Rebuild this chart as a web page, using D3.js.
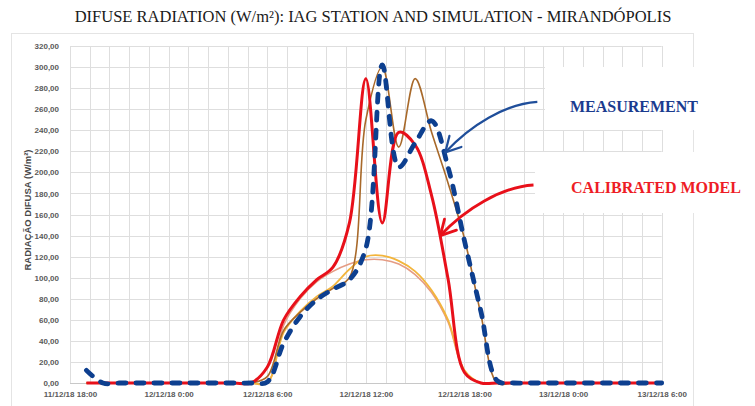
<!DOCTYPE html>
<html>
<head>
<meta charset="utf-8">
<script src="https://cdn.jsdelivr.net/npm/d3@7"></script>
<style>
  body { margin: 0; background: #fff; }
  svg { display: block; }
</style>
</head>
<body>
<div id="chart"></div>
<script>
// hourly series, 11/12/18 19:00 -> 13/12/18 06:00
var measurement = [12, 0, 0, 0, 0, 0, 0, 0, 0, 0, 0,
  1, 38, 63, 79, 89, 98, 128, 302, 205, 228, 249, 205, 135, 68, 2,
  0, 0, 0, 0, 0, 0, 0, 0, 0, 0];
var calibrated = [0, 0, 0, 0, 0, 0, 0, 0, 0, 0, 0,
  15, 60, 82, 98, 110, 152, 289, 152, 238, 226, 178, 99, 10, 0, 0,
  0, 0, 0, 0, 0, 0, 0, 0, 0, 0];
var model = [0, 0, 0, 0, 0, 0, 0, 0, 0, 0, 0,
  6, 50, 67, 80, 90, 100, 250, 300, 224, 289, 238, 190, 137, 65, 0,
  0, 0, 0, 0, 0, 0, 0, 0, 0, 0];
var clearSkyA = [0, 0, 0, 0, 0, 0, 0, 0, 0, 0, 0,
  0, 48, 68, 82, 92, 108, 120, 121, 116, 106, 88, 60, 12, 0, 0,
  0, 0, 0, 0, 0, 0, 0, 0, 0, 0];
var clearSkyB = [0, 0, 0, 0, 0, 0, 0, 0, 0, 0, 0,
  0, 55, 80, 96, 106, 113, 117, 117, 113, 103, 86, 58, 11, 0, 0,
  0, 0, 0, 0, 0, 0, 0, 0, 0, 0];

var yTicks = d3.range(0, 321, 20);
var titleText = "DIFUSE RADIATION (W/m²): IAG STATION AND SIMULATION - MIRANDÓPOLIS";
var yTitle = "RADIAÇÃO DIFUSA (W/m²)";

var parseT = d3.timeParse("%d/%m/%y %H:%M");
var tStart = parseT("11/12/18 18:00");
var tEnd = parseT("13/12/18 06:00");
var times = d3.timeHour.range(parseT("11/12/18 19:00"), d3.timeHour.offset(tEnd, 1));

// arrow annotations: [time, value] for start and tip
var arrows = [
  { from: ["12/12/18 22:26", 267], tip: ["12/12/18 16:50", 219], color: "#1f4e9a", w: 2.2 },
  { from: ["12/12/18 22:12", 188], tip: ["12/12/18 16:32", 140], color: "#e8101a", w: 2.8 }
];

var svgWidth = 755;
var svgHeight = 406;

var svg = d3.select("#chart")
  .append("svg")
  .attr("width", svgWidth)
  .attr("height", svgHeight);

var x = d3.scaleTime().domain([tStart, tEnd]).range([70, 661.7]);
var y = d3.scaleLinear().domain([0, 320]).range([383, 46]);

var locale = d3.formatLocale({ decimal: ",", thousands: ".", grouping: [3], currency: ["R$", ""] });
var fmtY = locale.format(".2f");
var fmtX = d3.timeFormat("%d/%m/%y %-H:%M");

// title
svg.append("text")
  .attr("x", 373)
  .attr("y", 22)
  .attr("text-anchor", "middle")
  .style("font-family", "'Liberation Serif', 'Times New Roman', serif")
  .style("font-size", "16.5px")
  .attr("fill", "#1a1a1a")
  .text(titleText);

// chart area border
svg.append("rect")
  .attr("x", 11.5).attr("y", 33.5)
  .attr("width", 682).attr("height", 420)
  .attr("fill", "none")
  .attr("stroke", "#e4e4e4");

// grid
var grid = svg.append("g");
grid.selectAll(".hg")
  .data(yTicks)
  .enter()
  .append("line")
  .attr("x1", x(tStart)).attr("x2", x(tEnd))
  .attr("y1", d => Math.round(y(d)) + 0.5)
  .attr("y2", d => Math.round(y(d)) + 0.5)
  .attr("stroke", d => d === 0 ? "#c8c8c8" : "#dedede");

var vGrid = d3.range(0, 31).map(i => d3.timeMinute.offset(tStart, i * 72));
grid.selectAll(".vg")
  .data(vGrid)
  .enter()
  .append("line")
  .attr("x1", d => Math.round(x(d)) + 0.5)
  .attr("x2", d => Math.round(x(d)) + 0.5)
  .attr("y1", y(320)).attr("y2", y(0))
  .attr("stroke", "#dedede");

// white label boxes over the grid
svg.append("rect").attr("x", 545).attr("y", 67).attr("width", 210).attr("height", 63).attr("fill", "#fff");
svg.append("rect").attr("x", 535).attr("y", 152).attr("width", 220).attr("height", 61).attr("fill", "#fff");

// axes labels
var yAxis = d3.axisLeft(y).tickValues(yTicks).tickSize(0).tickPadding(8).tickFormat(fmtY);
var gy = svg.append("g").attr("transform", "translate(67,0)").call(yAxis);
gy.select(".domain").remove();
gy.selectAll("text")
  .style("font-family", "'Liberation Sans', Arial, sans-serif")
  .style("font-size", "8px")
  .style("font-weight", "bold")
  .attr("fill", "#5a5a5a");

var xAxis = d3.axisBottom(x).ticks(d3.timeHour.every(6)).tickSize(0).tickPadding(6).tickFormat(fmtX);
var gx = svg.append("g").attr("transform", "translate(0,385)").call(xAxis);
gx.select(".domain").remove();
gx.selectAll("text")
  .style("font-family", "'Liberation Sans', Arial, sans-serif")
  .style("font-size", "8px")
  .style("font-weight", "bold")
  .attr("fill", "#5a5a5a");

svg.append("text")
  .attr("transform", "translate(31,210) rotate(-90)")
  .attr("text-anchor", "middle")
  .style("font-family", "'Liberation Sans', Arial, sans-serif")
  .style("font-size", "9.5px")
  .style("font-weight", "bold")
  .attr("fill", "#4a4a4a")
  .text(yTitle);

// series, smoothed like the spreadsheet lines
var line = d3.line()
  .x(d => x(d[0]))
  .y(d => y(d[1]))
  .curve(d3.curveCatmullRom.alpha(0.5));

function series(vals) { return times.map((t, i) => [t, vals[i]]); }

var lines = svg.append("g").attr("fill", "none");
lines.append("path").attr("d", line(series(clearSkyB))).attr("stroke", "#e59c84").attr("stroke-width", 1.6);
lines.append("path").attr("d", line(series(clearSkyA))).attr("stroke", "#f3b53c").attr("stroke-width", 1.8);
lines.append("path").attr("d", line(series(model))).attr("stroke", "#a8692a").attr("stroke-width", 1.6);
lines.append("path").attr("d", line(series(calibrated))).attr("stroke", "#e8101a").attr("stroke-width", 3);
lines.append("path").attr("d", line(series(measurement)))
  .attr("stroke", "#0d3f8f")
  .attr("stroke-width", 4.8)
  .attr("stroke-dasharray", "8,10")
  .attr("stroke-linecap", "round");

// arrows
arrows.forEach(function(a) {
  var x0 = x(parseT(a.from[0])), y0 = y(a.from[1]);
  var x1 = x(parseT(a.tip[0])), y1 = y(a.tip[1]);
  var p = d3.path();
  p.moveTo(x0, y0);
  p.bezierCurveTo(x0 - 32, y0 + 2, x1 + 25, y1 - 27, x1, y1);
  svg.append("path").attr("d", p.toString())
    .attr("fill", "none").attr("stroke", a.color).attr("stroke-width", a.w);
  var ang = Math.atan2(y1 - (y1 - 27), x1 - (x1 + 25));
  var len = 17;
  [-0.5, 0.5].forEach(function(da) {
    svg.append("line")
      .attr("x1", x1).attr("y1", y1)
      .attr("x2", x1 - len * Math.cos(ang + da))
      .attr("y2", y1 - len * Math.sin(ang + da))
      .attr("stroke", a.color).attr("stroke-width", a.w)
      .attr("stroke-linecap", "round");
  });
});

// annotation labels
svg.append("text")
  .attr("x", 634).attr("y", 112)
  .attr("text-anchor", "middle")
  .style("font-family", "'Liberation Serif', 'Times New Roman', serif")
  .style("font-size", "16px")
  .style("font-weight", "bold")
  .attr("fill", "#1a3b8f")
  .text("MEASUREMENT");

svg.append("text")
  .attr("x", 656).attr("y", 193)
  .attr("text-anchor", "middle")
  .style("font-family", "'Liberation Serif', 'Times New Roman', serif")
  .style("font-size", "16px")
  .style("font-weight", "bold")
  .attr("fill", "#ee1c25")
  .text("CALIBRATED MODEL");
</script>
</body>
</html>
